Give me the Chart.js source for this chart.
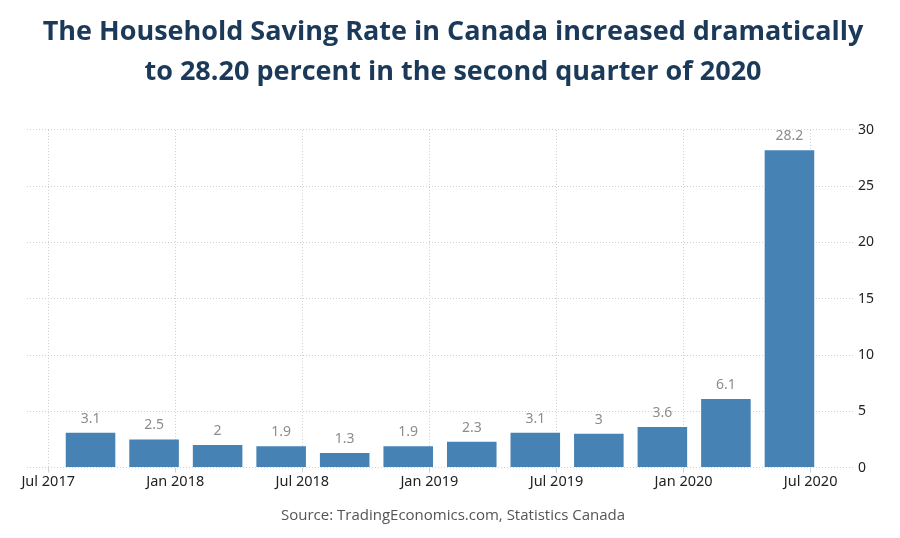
<!DOCTYPE html>
<html>

<head>
    <title>Household Saving Rate in Canada</title>
    <meta charset="utf-8">
    <style>
        body { margin: 0; background: #fff; }
        #wrap { width: 900px; height: 538px; }
    </style>
</head>

<body>
    <div id="wrap"><canvas id="myChart"></canvas></div>

    <script src="https://cdn.jsdelivr.net/npm/chart.js"></script>
    <script>
        // months counted from Jul 2017
        const barMonths = [2, 5, 8, 11, 14, 17, 20, 23, 26, 29, 32, 35];
        const savingRate = [3.1, 2.5, 2, 1.9, 1.3, 1.9, 2.3, 3.1, 3, 3.6, 6.1, 28.2];
        const tickMonths = [0, 6, 12, 18, 24, 30, 36];
        const tickLabels = ["Jul 2017", "Jan 2018", "Jul 2018", "Jan 2019", "Jul 2019", "Jan 2020", "Jul 2020"];

        const points = barMonths.map((m, i) => ({ x: m, y: savingRate[i] }));

        // value printed above every bar
        const valueLabels = {
            id: "valueLabels",
            afterDatasetsDraw(chart) {
                const ctx = chart.ctx;
                const meta = chart.getDatasetMeta(0);
                ctx.save();
                ctx.font = "14px 'Noto Sans'";
                ctx.fillStyle = "#8c8c8c";
                ctx.textAlign = "center";
                ctx.textBaseline = "alphabetic";
                meta.data.forEach((bar, i) => {
                    ctx.fillText(String(savingRate[i]), bar.x, bar.y - 10);
                });
                ctx.restore();
            }
        };

        const ctx = document.getElementById("myChart");

        let chart = new Chart(ctx, {
            type: "bar",
            data: {
                datasets: [{
                    label: "Saving rate",
                    data: points,
                    backgroundColor: "#4682b4",
                    barPercentage: 0.78,
                    categoryPercentage: 1
                }]
            },
            options: {
                responsive: true,
                maintainAspectRatio: false,
                animation: false,
                layout: { padding: { left: 27, right: 21, top: 0, bottom: 9 } },
                plugins: {
                    legend: { display: false },
                    tooltip: { enabled: false },
                    title: {
                        display: true,
                        text: ["The Household Saving Rate in Canada increased dramatically",
                               "to 28.20 percent in the second quarter of 2020"],
                        color: "#1b3a5a",
                        font: { family: "'Open Sans'", size: 27, weight: "bold", lineHeight: 1.48 },
                        padding: { top: 12, bottom: 38 }
                    },
                    subtitle: {
                        display: true,
                        position: "bottom",
                        text: "Source: TradingEconomics.com, Statistics Canada",
                        color: "#555",
                        font: { family: "'Open Sans'", size: 15 },
                        padding: { top: 15, bottom: 4 }
                    }
                },
                scales: {
                    x: {
                        type: "linear",
                        position: "bottom",
                        offset: false,
                        min: -1,
                        max: 38,
                        afterBuildTicks: scale => {
                            scale.ticks = tickMonths.map(v => ({ value: v }));
                        },
                        ticks: {
                            color: "#222",
                            font: { family: "'Noto Sans'", size: 14.5 },
                            maxRotation: 0,
                            autoSkip: false,
                            padding: 1,
                            callback: v => tickLabels[tickMonths.indexOf(v)]
                        },
                        grid: {
                            color: "#d0d0d0",
                            tickColor: "#d0d0d0",
                            tickLength: 5,
                            offset: false
                        },
                        border: { display: false, dash: [1, 2] }
                    },
                    y: {
                        position: "right",
                        min: 0,
                        max: 30,
                        ticks: {
                            stepSize: 5,
                            color: "#222",
                            font: { family: "'Noto Sans'", size: 14 },
                            padding: 5
                        },
                        grid: { color: "#d0d0d0", drawTicks: false },
                        border: { display: false, dash: [1, 2] }
                    }
                }
            },
            plugins: [valueLabels]
        });
    </script>
</body>

</html>
